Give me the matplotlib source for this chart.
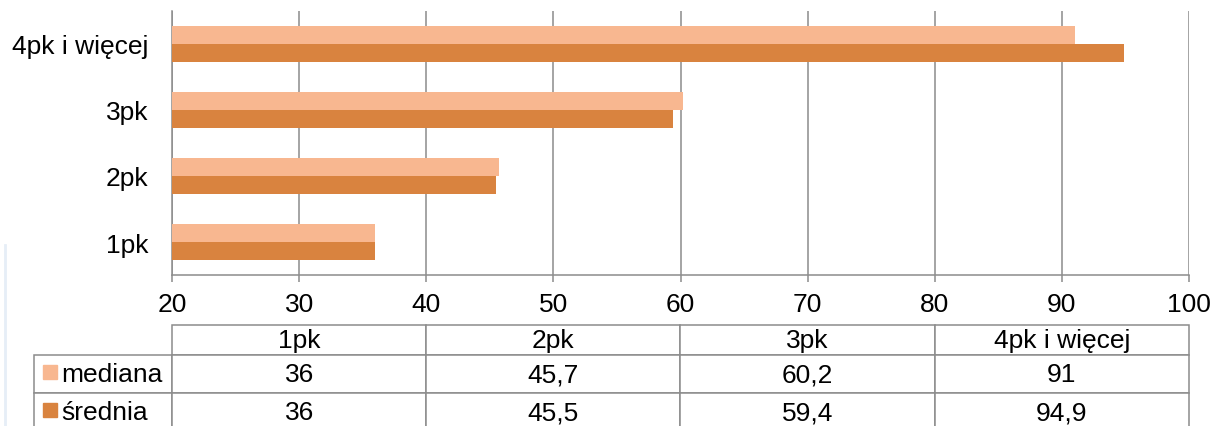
import matplotlib.pyplot as plt
from matplotlib.table import Table
from matplotlib.patches import Rectangle
from matplotlib.lines import Line2D

categories = ["1pk", "2pk", "3pk", "4pk i więcej"]
mediana = [36, 45.7, 60.2, 91]
srednia = [36, 45.5, 59.4, 94.9]
series_names = ["mediana", "średnia"]
x_ticks = [20, 30, 40, 50, 60, 70, 80, 90, 100]

c_med = "#F8B790"
c_sr = "#D9833F"
grid_c = "#8C8C8C"

plt.rcParams["font.family"] = ["Liberation Sans", "DejaVu Sans"]

fig = plt.figure(figsize=(12.19, 4.27), dpi=100)
ax = fig.add_axes([172 / 1219, 1 - 276 / 427, 1017 / 1219, 264 / 427])

h = 0.27
pos = list(range(len(categories)))
ax.barh([p + h / 2 for p in pos], mediana, height=h, color=c_med, zorder=3)
ax.barh([p - h / 2 for p in pos], srednia, height=h, color=c_sr, zorder=3)

ax.set_xlim(20, 100)
ax.set_ylim(-0.5, 3.5)
ax.set_xticks(x_ticks)
ax.set_yticks(pos)
ax.set_yticklabels(categories)
ax.xaxis.grid(True, color=grid_c, linewidth=1.1, zorder=0)
for s in ["top", "right"]:
    ax.spines[s].set_visible(False)
for s in ["left", "bottom"]:
    ax.spines[s].set_color(grid_c)
    ax.spines[s].set_linewidth(1.1)
ax.tick_params(axis="x", length=5, width=1.1, color=grid_c, labelsize=19, pad=7)
ax.tick_params(axis="y", length=0, labelsize=19, pad=17)

# data table under the axis
px_w, px_h = 1017, 264
tbl = Table(ax, bbox=[-138 / px_w, -156 / px_h, 1155 / px_w, 106 / px_h])
lab_w, col_w = 138, 254.25
hdr_h, row_h = 30, 38
for j, cat in enumerate(categories):
    tbl.add_cell(0, j + 1, width=col_w, height=hdr_h, text=cat, loc="center")
for i, (name, vals) in enumerate(zip(series_names, [mediana, srednia])):
    cell = tbl.add_cell(i + 1, 0, width=lab_w, height=row_h, text=name, loc="left")
    cell.PAD = 0.2
    for j, v in enumerate(vals):
        tbl.add_cell(i + 1, j + 1, width=col_w, height=row_h,
                     text=f"{v:g}".replace(".", ","), loc="center")
tbl.auto_set_font_size(False)
tbl.set_fontsize(19)
for cell in tbl.get_celld().values():
    cell.set_edgecolor(grid_c)
    cell.set_linewidth(1.1)
ax.add_table(tbl)

# legend keys inside the row labels
for i, c in enumerate([c_med, c_sr]):
    y0 = (276 - 380 - i * 38) / px_h
    ax.add_patch(Rectangle((-129 / px_w, y0), 14 / px_w, 14 / px_h,
                           transform=ax.transAxes, color=c, clip_on=False))

fig.add_artist(Line2D([5 / 1219, 5 / 1219], [0, 1 - 246 / 427],
                      color="#E6EEF7", linewidth=2))

fig.savefig("out.png", dpi=100)
